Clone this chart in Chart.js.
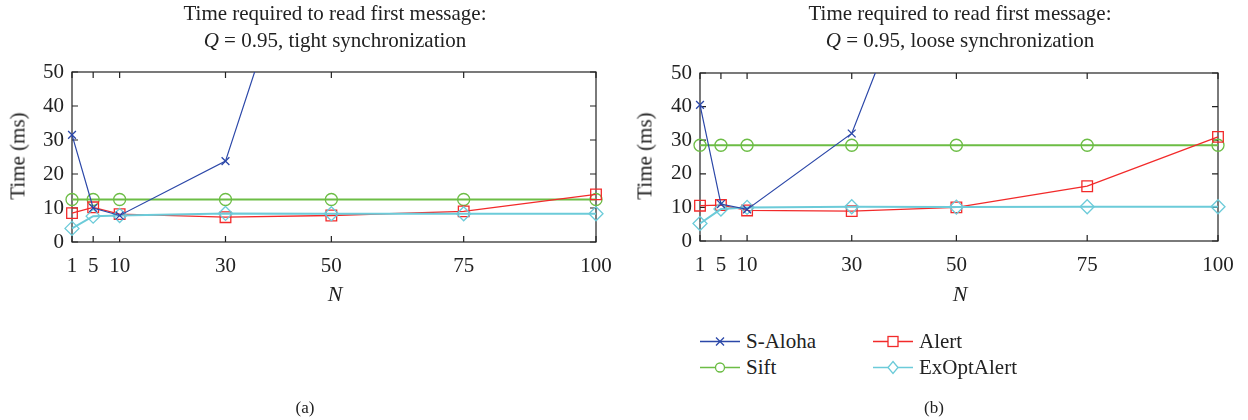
<!DOCTYPE html>
<html>
<head>
<meta charset="utf-8">
<script src="https://cdn.jsdelivr.net/npm/chart.js@4.4.1/dist/chart.umd.min.js"></script>
<style>
  body { margin: 0; background: #fff; }
  #wrap { position: relative; width: 1248px; height: 420px; font-family: "Liberation Serif", serif; color: #222; overflow: hidden; }
  #wrap canvas { position: absolute; top: 0; }
  .ttl { position: absolute; width: 460px; text-align: center; font-size: 21px; line-height: 27px; top: 0; }
  .ylab { position: absolute; font-size: 21px; white-space: nowrap; transform: translate(-50%, -50%) rotate(-90deg); }
  .xlab { position: absolute; font-size: 22px; font-style: italic; transform: translate(-50%, -50%); }
  .sub { position: absolute; font-size: 17px; transform: translate(-50%, -50%); }
  .leg { position: absolute; font-size: 21px; display: flex; align-items: center; transform: translateY(-50%); }
  .leg svg { margin-right: 6px; }
</style>
</head>
<body>
<div id="wrap">
  <canvas id="chartA" width="624" height="320" style="left:0"></canvas>
  <canvas id="chartB" width="624" height="320" style="left:624px"></canvas>

  <div class="ttl" style="left:105px">Time required to read first message:<br><i>Q</i> = 0.95, tight synchronization</div>
  <div class="ttl" style="left:730px">Time required to read first message:<br><i>Q</i> = 0.95, loose synchronization</div>

  <div class="ylab" style="left:18px; top:156px">Time (ms)</div>
  <div class="ylab" style="left:645px; top:156px">Time (ms)</div>
  <div class="xlab" style="left:335px; top:294px">N</div>
  <div class="xlab" style="left:960px; top:294px">N</div>

  <div id="legend"></div>

  <div class="sub" style="left:305px; top:408px">(a)</div>
  <div class="sub" style="left:934px; top:408px">(b)</div>
</div>

<script>
// ── Data ───────────────────────────────────────────────────────────────────
const nValues = [1, 5, 10, 30, 50, 75, 100];
const yTicks  = [0, 10, 20, 30, 40, 50];

const seriesNames  = ['S-Aloha', 'Sift', 'Alert', 'ExOptAlert'];
const seriesColors = ['#2b47a8', '#6cbd45', '#f22a2a', '#6ccbd9'];

// (a) tight synchronization
const tightAloha = [31.5, 10.0, 7.8, 23.8, 119, 300, 600];
const tightSift  = [12.5, 12.5, 12.5, 12.5, 12.5, 12.5, 12.5];
const tightAlert = [8.5, 10.2, 8.2, 7.3, 7.8, 9.0, 14.0];
const tightExOpt = [4.0, 7.6, 7.8, 8.4, 8.3, 8.3, 8.3];

// (b) loose synchronization
const looseAloha = [40.5, 11.0, 9.4, 32.0, 112, 300, 600];
const looseSift  = [28.5, 28.5, 28.5, 28.5, 28.5, 28.5, 28.5];
const looseAlert = [10.5, 10.7, 9.1, 8.9, 10.0, 16.3, 31.0];
const looseExOpt = [5.2, 9.5, 10.0, 10.2, 10.1, 10.2, 10.2];

// ── Styles per series ──────────────────────────────────────────────────────
const seriesStyle = [
  { pointStyle: 'crossRot', radius: 5.5, line: 1.2 },
  { pointStyle: 'circle',   radius: 6,   line: 2   },
  { pointStyle: 'rect',     radius: 7.5, line: 1.3 },
  { pointStyle: 'rectRot',  radius: 7,   line: 2   }
];
const drawOrder = [1, 4, 3, 2];

const FONT = 'Liberation Serif';

// frame + inward ticks, gnuplot style
const framePlugin = {
  id: 'frame',
  beforeDatasetsDraw(chart) {
    const { ctx, chartArea: a, scales } = chart;
    ctx.save();
    ctx.strokeStyle = '#222';
    ctx.lineWidth = 1.2;
    ctx.strokeRect(a.left, a.top, a.right - a.left, a.bottom - a.top);
    ctx.beginPath();
    yTicks.forEach(v => {
      const y = scales.y.getPixelForValue(v);
      ctx.moveTo(a.left, y);  ctx.lineTo(a.left + 6, y);
      ctx.moveTo(a.right, y); ctx.lineTo(a.right - 6, y);
    });
    nValues.forEach(v => {
      const x = scales.x.getPixelForValue(v);
      ctx.moveTo(x, a.bottom); ctx.lineTo(x, a.bottom - 6);
      ctx.moveTo(x, a.top);    ctx.lineTo(x, a.top + 6);
    });
    ctx.stroke();
    ctx.restore();
  }
};

function makeChart(canvas, box, values) {
  const W = canvas.width, H = canvas.height;
  const datasets = values.map((vals, i) => ({
    label: seriesNames[i],
    data: nValues.map((n, k) => ({ x: n, y: vals[k] })),
    borderColor: seriesColors[i],
    borderWidth: seriesStyle[i].line,
    pointStyle: seriesStyle[i].pointStyle,
    pointRadius: seriesStyle[i].radius,
    pointBorderColor: seriesColors[i],
    pointBackgroundColor: 'rgba(0,0,0,0)',
    pointBorderWidth: 1.3,
    tension: 0,
    order: drawOrder[i],
    clip: { left: 12, right: 12, top: 0, bottom: 12 }
  }));

  return new Chart(canvas, {
    type: 'line',
    data: { datasets },
    plugins: [framePlugin],
    options: {
      responsive: false,
      animation: false,
      devicePixelRatio: 1,
      layout: { padding: { top: box.top, right: W - box.right, left: 0, bottom: 0 } },
      plugins: { legend: { display: false }, tooltip: { enabled: false } },
      scales: {
        x: {
          type: 'linear', min: 1, max: 100,
          grid: { display: false, drawTicks: false }, border: { display: false },
          afterBuildTicks: s => { s.ticks = nValues.map(v => ({ value: v })); },
          afterFit: s => { s.height = H - box.bottom; s.paddingLeft = 0; s.paddingRight = 0; },
          ticks: { autoSkip: false, maxRotation: 0, padding: 12, color: '#222', font: { family: FONT, size: 21 } }
        },
        y: {
          min: 0, max: 50,
          grid: { display: false, drawTicks: false }, border: { display: false },
          afterBuildTicks: s => { s.ticks = yTicks.map(v => ({ value: v })); },
          afterFit: s => { s.width = box.left; s.paddingTop = 0; s.paddingBottom = 0; },
          ticks: { padding: 8, color: '#222', font: { family: FONT, size: 21 } }
        }
      }
    }
  });
}

makeChart(document.getElementById('chartA'), { left: 72, right: 596, top: 72, bottom: 242 },
  [tightAloha, tightSift, tightAlert, tightExOpt]);
makeChart(document.getElementById('chartB'), { left: 76, right: 594, top: 73, bottom: 241 },
  [looseAloha, looseSift, looseAlert, looseExOpt]);

// ── Legend (below panel b, two columns) ─────────────────────────────────────
const legendPos = [
  { x: 700, y: 341 }, { x: 700, y: 367 },
  { x: 873, y: 341 }, { x: 873, y: 367 }
];
function markerSvg(i) {
  const c = seriesColors[i];
  const cx = 20, cy = 8;
  let m = '';
  if (i === 0) m = `<path d="M${cx-4} ${cy-4}L${cx+4} ${cy+4}M${cx-4} ${cy+4}L${cx+4} ${cy-4}" stroke="${c}" stroke-width="1.3"/>`;
  if (i === 1) m = `<circle cx="${cx}" cy="${cy}" r="4.5" fill="#fff" stroke="${c}" stroke-width="1.3"/>`;
  if (i === 2) m = `<rect x="${cx-5}" y="${cy-5}" width="10" height="10" fill="#fff" stroke="${c}" stroke-width="1.3"/>`;
  if (i === 3) m = `<path d="M${cx} ${cy-6}L${cx+5} ${cy}L${cx} ${cy+6}L${cx-5} ${cy}Z" fill="#fff" stroke="${c}" stroke-width="1.3"/>`;
  return `<svg width="40" height="16"><line x1="0" y1="${cy}" x2="40" y2="${cy}" stroke="${c}" stroke-width="1.3"/>${m}</svg>`;
}
document.getElementById('legend').innerHTML = seriesNames.map((name, i) =>
  `<div class="leg" style="left:${legendPos[i].x}px; top:${legendPos[i].y}px">${markerSvg(i)}<span>${name}</span></div>`
).join('');
</script>
</body>
</html>
